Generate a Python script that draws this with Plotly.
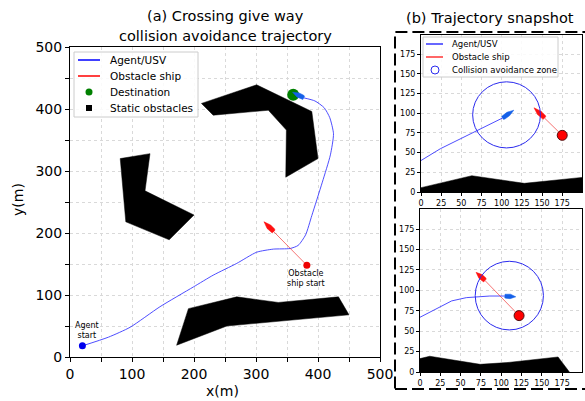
import math
import plotly.graph_objects as go

W, H = 585, 401

# ---------------- (a) full crossing trajectory ----------------
agent_x = [20, 62, 97, 145, 199, 231, 269, 301, 328, 355, 368, 380, 390, 407, 420, 425, 419, 410, 395, 377]
agent_y = [18, 32, 48, 81, 113, 132, 151, 169, 174, 175, 180, 197, 228, 282, 326, 360, 386, 402, 413, 418]
agent_bow = (359, 427)

ship_start = (382, 148)
ship_bow = (313, 218)

dest = (360, 423)

obs1_x = [212, 301, 390, 400, 348, 349, 320, 231]
obs1_y = [409, 439, 396, 320, 290, 366, 398, 390]
obs2_x = [81, 129, 121, 200, 160, 90]
obs2_y = [320, 328, 268, 229, 189, 218]
obs3_x = [191, 269, 336, 433, 450, 253, 172]
obs3_y = [78, 97, 88, 97, 68, 50, 19]

main_ticks = [0, 100, 200, 300, 400, 500]
main_legend = ["Agent/USV", "Obstacle ship", "Destination", "Static obstacles"]

# ---------------- (b) snapshots ----------------
snap1_agent_x = [0, 24, 101]
snap1_agent_y = [40, 55, 94]
snap1_agent_bow = (115, 104)
snap1_ship = [(175, 72), (153, 94)]
snap1_ship_bow = (140, 107)
snap1_zone = (106, 98, 42)
snap1_land_x = [0, 0, 63, 128, 200, 200]
snap1_land_y = [0, 5.5, 20.7, 11, 18.6, 0]

snap2_agent_x = [0, 39, 57, 86, 104.5]
snap2_agent_y = [67, 87, 91, 93, 93]
snap2_agent_bow = (118, 92)
snap2_ship = [(122, 69), (80, 112)]
snap2_ship_bow = (69, 122)
snap2_zone = (110, 93.5, 42)
snap2_land_x = [0, 0, 12, 31, 74, 107, 170, 184]
snap2_land_y = [0, 16.4, 19.3, 16.4, 9.4, 11.5, 18.4, 0]

snap_ticks = [0, 25, 50, 75, 100, 125, 150, 175]
snap_legend = ["Agent/USV", "Obstacle ship", "Collision avoidance zone"]

AGENT_BLUE = "#3a3aff"
BOAT_BLUE = "#1460e8"
RED = "#ff1010"
RED_TRACK = "rgba(240,40,40,0.65)"
ZONE_BLUE = "#2a2aee"


def boat(tail, bow, width):
    """Hull outline from stern to bow: flat stern, pointed bow."""
    x0, y0 = tail
    x1, y1 = bow
    L = math.hypot(x1 - x0, y1 - y0)
    ux, uy = (x1 - x0) / L, (y1 - y0) / L
    nx, ny = -uy, ux
    local = [(0, -0.4), (0.1, -0.5), (0.5, -0.5), (1.0, 0.0), (0.5, 0.5), (0.1, 0.5), (0, 0.4),
             (0, -0.4)]
    xs = [x0 + u * L * ux + v * width * nx for u, v in local]
    ys = [y0 + u * L * uy + v * width * ny for u, v in local]
    return xs, ys


fig = go.Figure()

# --- panel (a) ---
for ox, oy in [(obs1_x, obs1_y), (obs2_x, obs2_y), (obs3_x, obs3_y)]:
    fig.add_trace(go.Scatter(x=ox + [ox[0]], y=oy + [oy[0]], mode="lines", fill="toself",
                             fillcolor="black", line=dict(color="black", width=0.5),
                             hoverinfo="skip", xaxis="x", yaxis="y"))

fig.add_trace(go.Scatter(x=agent_x, y=agent_y, mode="lines", name="Agent/USV",
                         line=dict(color=AGENT_BLUE, width=0.9, shape="spline", smoothing=0.6),
                         xaxis="x", yaxis="y"))
fig.add_trace(go.Scatter(x=[ship_start[0], ship_bow[0]], y=[ship_start[1], ship_bow[1]],
                         mode="lines", name="Obstacle ship",
                         line=dict(color=RED_TRACK, width=1), xaxis="x", yaxis="y"))
fig.add_trace(go.Scatter(x=[dest[0]], y=[dest[1]], mode="markers", name="Destination",
                         marker=dict(color="green", size=12), xaxis="x", yaxis="y"))

# boats in panel (a)
ship_dir = (ship_bow[0] - ship_start[0], ship_bow[1] - ship_start[1])
sl = math.hypot(*ship_dir)
ship_tail = (ship_bow[0] - 22 * ship_dir[0] / sl, ship_bow[1] - 22 * ship_dir[1] / sl)
bx, by = boat(ship_tail, ship_bow, 8)
fig.add_trace(go.Scatter(x=bx, y=by, mode="lines", fill="toself", fillcolor=RED,
                         line=dict(color=RED, width=0.5), xaxis="x", yaxis="y"))
bx, by = boat((agent_x[-1], agent_y[-1]), agent_bow, 7.5)
fig.add_trace(go.Scatter(x=bx, y=by, mode="lines", fill="toself", fillcolor=BOAT_BLUE,
                         line=dict(color=BOAT_BLUE, width=0.5), xaxis="x", yaxis="y"))

fig.add_trace(go.Scatter(x=[agent_x[0]], y=[agent_y[0]], mode="markers",
                         marker=dict(color="#0000ee", size=7), xaxis="x", yaxis="y"))
fig.add_trace(go.Scatter(x=[ship_start[0]], y=[ship_start[1]], mode="markers",
                         marker=dict(color="#ee0000", size=7), xaxis="x", yaxis="y"))

# --- panels (b) ---
shapes = []
snaps = [
    ("x2", "y2", snap1_agent_x, snap1_agent_y, snap1_agent_bow, snap1_ship, snap1_ship_bow,
     snap1_zone, snap1_land_x, snap1_land_y),
    ("x3", "y3", snap2_agent_x, snap2_agent_y, snap2_agent_bow, snap2_ship, snap2_ship_bow,
     snap2_zone, snap2_land_x, snap2_land_y),
]
for xa, ya, axs, ays, abow, ship, sbow, zone, lx, ly in snaps:
    fig.add_trace(go.Scatter(x=lx, y=ly, mode="lines", fill="toself", fillcolor="black",
                             line=dict(color="black", width=0.5), xaxis=xa, yaxis=ya))
    fig.add_trace(go.Scatter(x=axs, y=ays, mode="lines", name="Agent/USV",
                             line=dict(color=AGENT_BLUE, width=0.9), xaxis=xa, yaxis=ya))
    fig.add_trace(go.Scatter(x=[p[0] for p in ship], y=[p[1] for p in ship], mode="lines",
                             name="Obstacle ship", line=dict(color=RED_TRACK, width=1),
                             xaxis=xa, yaxis=ya))
    cx, cy, r = zone
    shapes.append(dict(type="circle", xref=xa, yref=ya, x0=cx - r, x1=cx + r, y0=cy - r,
                       y1=cy + r, line=dict(color=ZONE_BLUE, width=1)))
    bx, by = boat((axs[-1], ays[-1]), abow, 5.5)
    fig.add_trace(go.Scatter(x=bx, y=by, mode="lines", fill="toself", fillcolor=BOAT_BLUE,
                             line=dict(color=BOAT_BLUE, width=0.5), xaxis=xa, yaxis=ya))
    bx, by = boat(ship[-1], sbow, 6)
    fig.add_trace(go.Scatter(x=bx, y=by, mode="lines", fill="toself", fillcolor=RED,
                             line=dict(color=RED, width=0.5), xaxis=xa, yaxis=ya))
    fig.add_trace(go.Scatter(x=[ship[0][0]], y=[ship[0][1]], mode="markers",
                             marker=dict(color="#ff0000", size=10, line=dict(color="#501010", width=1)),
                             xaxis=xa, yaxis=ya))

grid = dict(showgrid=True, gridcolor="#d9d9d9", griddash="dot", gridwidth=0.8,
            showline=True, linecolor="black", linewidth=1, mirror=True, zeroline=False,
            ticks="outside", tickcolor="black", automargin=False, fixedrange=True)

main_axis = dict(grid, range=[0, 500], tickvals=main_ticks, ticklen=4,
                 tickfont=dict(size=14, color="black"),
                 minor=dict(dtick=50, tick0=0, ticks="outside", ticklen=4, tickcolor="black",
                            showgrid=True, gridcolor="#d9d9d9", griddash="dot", gridwidth=0.8))
snap_axis = dict(grid, range=[0, 199.5], tickvals=snap_ticks, ticklen=3,
                 tickfont=dict(size=8, color="black"))

fig.update_layout(
    width=W, height=H, margin=dict(l=0, r=0, t=0, b=0),
    paper_bgcolor="white", plot_bgcolor="white",
    font=dict(family="DejaVu Sans", color="black"),
    showlegend=False,
    xaxis=dict(main_axis, domain=[70 / W, 380 / W], anchor="y"),
    yaxis=dict(main_axis, domain=[1 - 357 / H, 1 - 47 / H], anchor="x"),
    xaxis2=dict(snap_axis, domain=[421 / W, 582 / W], anchor="y2"),
    yaxis2=dict(snap_axis, domain=[1 - 192 / H, 1 - 35 / H], anchor="x2"),
    xaxis3=dict(snap_axis, domain=[420 / W, 582 / W], anchor="y3"),
    yaxis3=dict(snap_axis, domain=[1 - 372 / H, 1 - 209 / H], anchor="x3"),
)


def px(x):
    return x / W


def py(y):
    return 1 - y / H


def label(text, x, y, size, xanchor="center", **kw):
    return dict(text=text, x=px(x), y=py(y), xref="paper", yref="paper", showarrow=False,
                xanchor=xanchor, yanchor="middle", font=dict(size=size), **kw)


annotations = [
    label("(a) Crossing give way", 225, 16, 14.5),
    label("collision avoidance trajectory", 225, 36, 14.5),
    label("(b) Trajectory snapshot", 490, 18, 14.5),
    label("x(m)", 222, 391, 14),
    label("y(m)", 18, 200, 14, textangle=-90),
    dict(text="Agent<br>start", x=27, y=43, xref="x", yref="y", showarrow=False,
         xanchor="center", yanchor="middle", font=dict(size=8)),
    dict(text="Obstacle<br>ship start", x=381, y=127, xref="x", yref="y", showarrow=False,
         xanchor="center", yanchor="middle", font=dict(size=8)),
]

# legend for panel (a)
shapes.append(dict(type="rect", xref="paper", yref="paper", x0=px(74), x1=px(198),
                   y0=py(117), y1=py(52), line=dict(color="#cccccc", width=1),
                   fillcolor="rgba(255,255,255,0.85)"))
rows_a = [60, 76, 92, 108]
shapes.append(dict(type="line", xref="paper", yref="paper", x0=px(78), x1=px(100),
                   y0=py(rows_a[0]), y1=py(rows_a[0]), line=dict(color="#0000ff", width=1.5)))
shapes.append(dict(type="line", xref="paper", yref="paper", x0=px(78), x1=px(100),
                   y0=py(rows_a[1]), y1=py(rows_a[1]), line=dict(color="#ff0000", width=1.5)))
shapes.append(dict(type="circle", xref="paper", yref="paper", x0=px(85.5), x1=px(92.5),
                   y0=py(rows_a[2] + 3.5), y1=py(rows_a[2] - 3.5), fillcolor="green",
                   line=dict(color="green", width=0)))
shapes.append(dict(type="rect", xref="paper", yref="paper", x0=px(86), x1=px(92),
                   y0=py(rows_a[3] + 3), y1=py(rows_a[3] - 3), fillcolor="black",
                   line=dict(color="black", width=0)))
for name, r in zip(main_legend, rows_a):
    annotations.append(label(name, 108, r, 10.5, xanchor="left"))

# legend for panel (b)
shapes.append(dict(type="rect", xref="paper", yref="paper", x0=px(423), x1=px(558),
                   y0=py(77), y1=py(37), line=dict(color="#cccccc", width=1),
                   fillcolor="rgba(255,255,255,0.85)"))
rows_b = [44, 57, 70]
shapes.append(dict(type="line", xref="paper", yref="paper", x0=px(426), x1=px(443),
                   y0=py(rows_b[0]), y1=py(rows_b[0]), line=dict(color="#0000ff", width=1.2)))
shapes.append(dict(type="line", xref="paper", yref="paper", x0=px(426), x1=px(443),
                   y0=py(rows_b[1]), y1=py(rows_b[1]), line=dict(color="#ff0000", width=1.2)))
shapes.append(dict(type="circle", xref="paper", yref="paper", x0=px(431), x1=px(439),
                   y0=py(rows_b[2] + 4), y1=py(rows_b[2] - 4), line=dict(color=ZONE_BLUE, width=1)))
for name, r in zip(snap_legend, rows_b):
    annotations.append(label(name, 450, r, 8.5, xanchor="left"))

# dashed frame around the snapshot panels
shapes.append(dict(type="rect", xref="paper", yref="paper", x0=px(395), x1=1.02, y0=py(389),
                   y1=py(32), line=dict(color="black", width=2, dash="12px,5px")))

fig.update_layout(annotations=annotations, shapes=shapes)

fig.write_html("out.html")
